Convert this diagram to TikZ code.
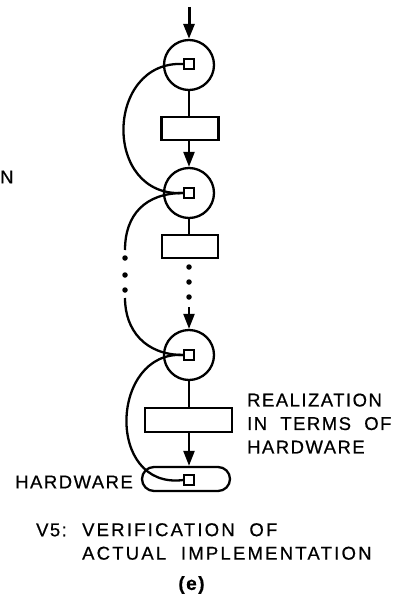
\documentclass[tikz,border=0pt]{standalone}
\usepackage{fontspec}
\setmainfont{Liberation Sans}[LetterSpace=8, WordSpace=2, FakeBold=0.6]
\usetikzlibrary{arrows.meta, positioning, calc}

\begin{document}
\begin{tikzpicture}[x=1pt, y=-1pt, line width=2.3pt,
    font=\fontsize{18.5}{23.5}\selectfont,
    place/.style={circle, draw, minimum size=50pt, inner sep=0pt},
    token/.style={draw, fill=white, line width=1.4pt, minimum size=10pt,
                  inner sep=0pt},
    trans/.style={draw, minimum height=23pt, inner sep=0pt},
    flow/.style={-{Triangle[width=11pt, length=15pt]}},
    dot/.style={circle, fill, inner sep=0pt, minimum size=5.5pt}]
  \useasboundingbox (0,0) rectangle (393,599);
  \node[place] (c1) at (189,65) {};
  \node[trans, minimum width=57pt] (r1) at (190,128.5) {};
  \node[place] (c2) at (189,193) {};
  \node[trans, minimum width=56pt] (r2) at (190,246.5) {};
  \node[place] (c3) at (189,355) {};
  \node[trans, minimum width=87pt, minimum height=24pt] (r3) at (188.5,420) {};
  \node[draw, rounded corners=12pt, minimum width=88pt, minimum height=24pt,
        inner sep=0pt] (hw) at (186,479) {};
  \foreach \n/\y in {s1/64, s2/193, s3/355, s4/480}{%
    \node[token] (\n) at (189,\y) {};}
  % main line down the middle
  \coordinate (in) at (189,7);
  \draw[flow, line width=3pt] (in) -- (c1.north);
  \draw (c1) -- (c1 |- r1.north);
  \draw[flow] (c2 |- r1.south) -- (c2.north);
  \draw (c2) -- (c2 |- r2.north);
  \foreach \y [count=\i] in {267,282,297}{%
    \node[dot] (rd\i) at (189,\y) {};}
  \coordinate (rin) at (189,307);
  \draw[flow] (rin) -- (c3.north);
  \draw (c3) -- (c3 |- r3.north);
  \draw[flow] (r3.south -| s4) -- (hw.north -| s4);
  % arcs on the left
  \foreach \y [count=\i] in {258,275,290}{%
    \node[dot] (ld\i) at (125,\y) {};}
  \coordinate (lb) at (125,250);
  \coordinate (lt) at (125,298);
  \draw (s1.west) .. controls (105,60) and (102,198) .. (s2.west);
  \draw (s2.west) .. controls (145,193) and (125,215) .. (lb);
  \draw (lt) .. controls (125,330) and (145,355) .. (s3.west);
  \draw (s3.west) .. controls (110,350) and (105,490) .. (s4.west);
  % labels
  \node[anchor=west, inner sep=0pt] (frag) at (-1,177) {N};
  \node[anchor=west, align=left, inner sep=0pt] (real) at (246,423.5)
    {REALIZATION\\IN TERMS OF\\HARDWARE};
  \node[anchor=east, inner sep=0pt] (hwlab) at (134,482) {HARDWARE};
  \node[anchor=west, inner sep=0pt] (vfive) at (35,530) {V5:};
  \node[anchor=west, align=left, inner sep=0pt,
        font=\fontsize{18.5}{23.5}\selectfont\addfontfeature{LetterSpace=12}]
    (vtext) at (81,541.5) {VERIFICATION OF\\ACTUAL IMPLEMENTATION};
  \node[font=\fontsize{19}{21}\selectfont\bfseries, inner sep=0pt] (tag)
    at (191.5,585) {(e)};
\end{tikzpicture}
\end{document}
